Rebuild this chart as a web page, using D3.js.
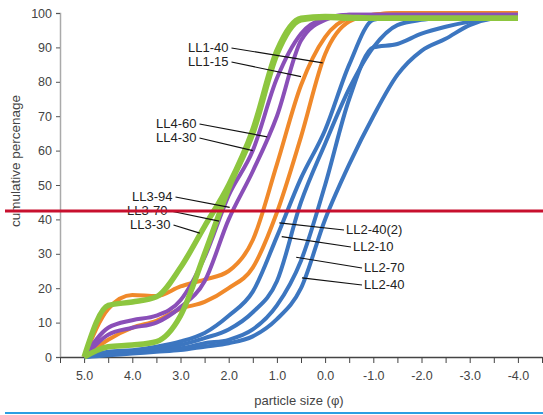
<!DOCTYPE html>
<html>
<head>
<meta charset="utf-8">
<script src="https://cdn.jsdelivr.net/npm/d3@7"></script>
<style>
  body { margin: 0; background: #fff; }
  svg text { font-family: "Liberation Sans", "DejaVu Sans", sans-serif; }
</style>
</head>
<body>
<svg id="chart" width="543" height="415"></svg>
<script>
// particle size (phi) sample points, 5.0 down to -4.0
var phi = [5.0, 4.5, 4.0, 3.5, 3.0, 2.5, 2.0, 1.5, 1.0, 0.5, 0.0,
  -0.5, -1.0, -1.5, -2.0, -2.5, -3.0, -3.5, -4.0];

// cumulative percentage per sample
var ll3_30 = [0, 15, 16, 17.5, 26, 38, 50, 66, 89, 98.5, 99, 98.8, 98.5, 98.5, 98.5, 98.5, 98.5, 98.5, 98.5];
var ll3_70 = [0, 3, 3.5, 4.5, 12, 30, 49, 65, 88, 98, 98.8, 98.5, 98.5, 98.5, 98.5, 98.5, 98.5, 98.5, 98.5];
var ll4_30 = [0, 8.5, 10.7, 12, 16.5, 29, 47, 60, 81, 94, 98.5, 99.5, 99.5, 99.5, 99.5, 99.5, 99.5, 99.5, 99.5];
var ll4_60 = [0, 6.5, 8.5, 10, 14.5, 22, 40, 54, 70, 92, 98, 99.5, 99.5, 99.5, 99.5, 99.5, 99.5, 99.5, 99.5];
var ll1_15 = [0, 14, 18, 17.7, 20.5, 22.5, 25, 34, 56, 79, 93, 98.5, 99.5, 100, 100, 100, 100, 100, 100];
var ll1_40 = [0, 5, 8.5, 10.5, 14, 16, 20, 26, 42, 64, 88, 97.5, 99.5, 100, 100, 100, 100, 100, 100];
var ll2_40b = [0, 1.5, 2, 3, 4.5, 7, 12, 19, 35, 52, 66, 85, 98, 99, 99, 99, 99, 99, 99];
var ll2_10 = [0, 1, 1.5, 2.5, 3.5, 5.5, 8, 13, 22, 45, 62, 78, 90, 96.5, 98, 98.5, 99, 99, 99];
var ll2_70 = [0, 0.8, 1.2, 2, 2.5, 4, 5, 8, 15, 28, 50, 75, 90, 91, 94, 96, 97.5, 98.5, 99];
var ll2_40 = [0, 0.5, 1, 1.5, 2, 3, 4, 6, 11, 20, 40, 56, 70, 82, 89, 92.5, 96.5, 98.5, 99];

var yTicks = [0, 10, 20, 30, 40, 50, 60, 70, 80, 90, 100];

var blue = "#3c76c0", orange = "#f0892a", purple = "#8a4fb8", green = "#8dc63f";

var series = [
  { v: ll2_40, c: blue, w: 4 },
  { v: ll2_70, c: blue, w: 4 },
  { v: ll2_10, c: blue, w: 4 },
  { v: ll2_40b, c: blue, w: 4 },
  { v: ll1_40, c: orange, w: 4 },
  { v: ll1_15, c: orange, w: 4 },
  { v: ll4_60, c: purple, w: 4 },
  { v: ll4_30, c: purple, w: 4 },
  { v: ll3_70, c: green, w: 5.5 },
  { v: ll3_30, c: green, w: 5.5 }
];

// label text, anchor of text, and pointer end in data units
var labels = [
  { t: "LL1-40", x: 188, y: 52, p: [0.05, 85.5] },
  { t: "LL1-15", x: 188, y: 66, p: [0.5, 81.5] },
  { t: "LL4-60", x: 156, y: 128, p: [1.2, 64] },
  { t: "LL4-30", x: 156, y: 142, p: [1.5, 60] },
  { t: "LL3-94", x: 132, y: 201, p: [1.98, 43.5] },
  { t: "LL3-70", x: 127, y: 215, p: [2.2, 39.5] },
  { t: "LL3-30", x: 130, y: 229, p: [2.6, 36] },
  { t: "LL2-40(2)", x: 346, y: 234, p: [0.95, 39], s: "start" },
  { t: "LL2-10", x: 353, y: 251, p: [0.9, 35], s: "start" },
  { t: "LL2-70", x: 364, y: 272, p: [0.6, 29], s: "start" },
  { t: "LL2-40", x: 364, y: 289, p: [0.48, 23], s: "start" }
];

var svg = d3.select("#chart");
var x = d3.scaleLinear().domain([5.5, -4.5]).range([60, 542]);
var y = d3.scaleLinear().domain([0, 100]).range([357, 13]);

// y axis
var yAxis = d3.axisLeft(y).tickValues(yTicks).tickSize(4).tickPadding(4);
var gy = svg.append("g").attr("transform", "translate(60,0)").call(yAxis);
gy.select(".domain").attr("stroke", "#aaa").attr("stroke-width", 1.5);
gy.selectAll(".tick line").attr("stroke", "#555");
gy.selectAll(".tick text").attr("font-size", 12.5).attr("fill", "#444")
  .style("font-family", "Liberation Sans, sans-serif");

// x axis
var xTickVals = d3.range(0, 21).map(function (i) { return 5.5 - i / 2; });
var xAxis = d3.axisBottom(x).tickValues(xTickVals).tickSize(6).tickPadding(8)
  .tickSizeOuter(0)
  .tickFormat(function (d) { return (Math.round(d * 2) % 2 === 0 && d < 5.5 && d > -4.5) ? d.toFixed(1) : ""; });
var gx = svg.append("g").attr("transform", "translate(0,357)").call(xAxis);
gx.select(".domain").attr("stroke", "#444").attr("stroke-width", 1.5);
gx.selectAll(".tick line").attr("stroke", "#444");
gx.selectAll(".tick text").attr("font-size", 12.5).attr("fill", "#444")
  .style("font-family", "Liberation Sans, sans-serif");

// axis titles
svg.append("text").attr("x", 299).attr("y", 405).attr("text-anchor", "middle")
  .attr("font-size", 13).attr("fill", "#444").text("particle size (\u03c6)");
svg.append("text").attr("transform", "translate(20,161) rotate(-90)")
  .attr("text-anchor", "middle").attr("font-size", 13.5).attr("fill", "#444")
  .text("cumulative percenage");

// curves
var line = d3.line()
  .x(function (d, i) { return x(phi[i]); })
  .y(function (d) { return y(d); })
  .curve(d3.curveMonotoneX);

svg.append("g").selectAll("path").data(series).enter().append("path")
  .attr("d", function (d) { return line(d.v); })
  .attr("fill", "none")
  .attr("stroke", function (d) { return d.c; })
  .attr("stroke-width", function (d) { return d.w; })
  .attr("stroke-linejoin", "round");

// labels and pointer lines
var lg = svg.append("g");
labels.forEach(function (l) {
  var tx = lg.append("text").attr("x", l.x).attr("y", l.y)
    .attr("font-size", 13).attr("fill", "#222").text(l.t);
  var w = tx.node().getComputedTextLength();
  var sx = l.s === "start" ? x(l.p[0]) : l.x + w + 3;
  var sy = l.y - 4;
  var ex = l.s === "start" ? l.x - 2 : x(l.p[0]);
  var ey = l.s === "start" ? l.y - 4 : y(l.p[1]);
  if (l.s === "start") { sy = y(l.p[1]); }
  lg.append("line").attr("x1", sx).attr("y1", sy).attr("x2", ex).attr("y2", ey)
    .attr("stroke", "#111").attr("stroke-width", 1.2);
});

// red reference line and bottom rule
svg.append("line").attr("x1", 5).attr("x2", 543).attr("y1", 211).attr("y2", 211)
  .attr("stroke", "#c8102e").attr("stroke-width", 3);
svg.append("line").attr("x1", 5).attr("x2", 543).attr("y1", 413).attr("y2", 413)
  .attr("stroke", "#2b9fe3").attr("stroke-width", 2);
</script>
</body>
</html>
